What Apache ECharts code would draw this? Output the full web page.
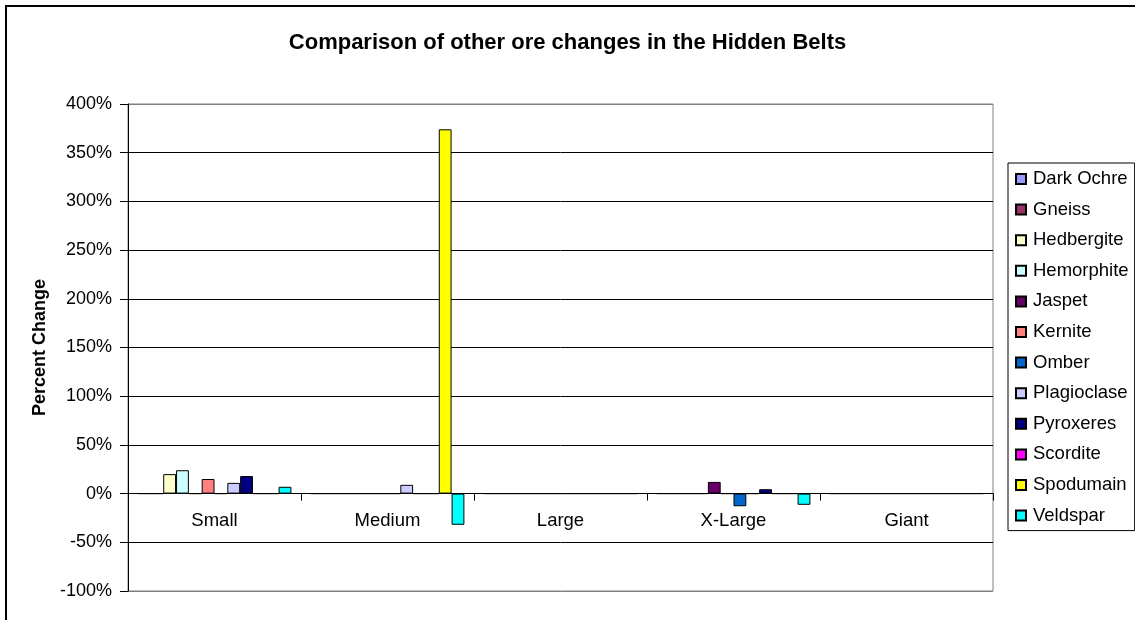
<!DOCTYPE html>
<html>
<head>
<meta charset="utf-8">
<script src="https://cdn.jsdelivr.net/npm/echarts@6/dist/echarts.min.js"></script>
<style>
  html, body { margin: 0; padding: 0; background: #fff; }
  #chart { width: 1135px; height: 620px; }
</style>
</head>
<body>
<div id="chart"></div>
<script>
// Belt sizes along the x axis
const belts = ['Small', 'Medium', 'Large', 'X-Large', 'Giant'];

// Percent change per ore, one value per belt size
const darkOchre   = [0, 0, 0, 0, 0];
const gneiss      = [0, 0, 0, 0, 0];
const hedbergite  = [20, 0, 0, 0, 0];
const hemorphite  = [24, 0, 0, 0, 0];
const jaspet      = [0, 0, 0, 12, 0];
const kernite     = [15, 0, 0, 0, 0];
const omber       = [0, 0, 0, -13, 0];
const plagioclase = [11, 9, 0, 0, 0];
const pyroxeres   = [18, 0, 0, 4.5, 0];
const scordite    = [0, 0, 0, 0, 0];
const spodumain   = [0, 374, 0, 0, 0];
const veldspar    = [7, -32, 0, -11.5, 0];

const ores = [
  ['Dark Ochre', darkOchre, '#9999FF'],
  ['Gneiss', gneiss, '#993366'],
  ['Hedbergite', hedbergite, '#FFFFCC'],
  ['Hemorphite', hemorphite, '#CCFFFF'],
  ['Jaspet', jaspet, '#660066'],
  ['Kernite', kernite, '#FF8080'],
  ['Omber', omber, '#0066CC'],
  ['Plagioclase', plagioclase, '#CCCCFF'],
  ['Pyroxeres', pyroxeres, '#000080'],
  ['Scordite', scordite, '#FF00FF'],
  ['Spodumain', spodumain, '#FFFF00'],
  ['Veldspar', veldspar, '#00FFFF']
];

// Value axis ticks
const yMin = -100, yMax = 400, yStep = 50;

const font = 'Liberation Sans, Arial, sans-serif';

// Plot box in pixels
const gridTop = 104, gridBottom = 29, chartH = 620;
const plotH = chartH - gridTop - gridBottom;
// Lift the category axis from the plot bottom up to the 0% line
const zeroLift = plotH * (0 - yMin) / (yMax - yMin);

const chart = echarts.init(document.getElementById('chart'), null, { renderer: 'canvas' });

chart.setOption({
  animation: false,
  backgroundColor: '#fff',
  title: {
    text: 'Comparison of other ore changes in the Hidden Belts',
    left: 'center',
    top: 27,
    textStyle: { fontFamily: font, fontSize: 22, fontWeight: 'bold', color: '#000' }
  },
  graphic: [{
    type: 'rect',
    shape: { x: 6, y: 6, width: 1140, height: 630 },
    style: { fill: 'none', stroke: '#000', lineWidth: 2 },
    silent: true
  }],
  legend: {
    orient: 'vertical',
    left: 1008,
    top: 163,
    padding: [6, 6, 5, 7],
    borderColor: '#000',
    borderWidth: 1,
    backgroundColor: '#fff',
    itemWidth: 10,
    itemHeight: 10,
    itemGap: 10.6,
    icon: 'rect',
    selectedMode: false,
    textStyle: { fontFamily: font, fontSize: 18.5, color: '#000', lineHeight: 20, padding: [0, 0, 0, 2] },
    data: ores.map(o => o[0])
  },
  grid: {
    left: 128, right: 142, top: gridTop, bottom: gridBottom,
    show: true,
    borderColor: '#808080',
    borderWidth: 1
  },
  xAxis: {
    type: 'category',
    data: belts,
    position: 'bottom',
    offset: -zeroLift,
    axisLine: { onZero: false, lineStyle: { color: '#000', width: 1 } },
    axisTick: { show: true, length: 7, lineStyle: { color: '#000' } },
    axisLabel: { margin: 18, fontFamily: font, fontSize: 18.5, color: '#000' },
    splitLine: { show: false }
  },
  yAxis: {
    type: 'value',
    min: yMin, max: yMax, interval: yStep,
    name: 'Percent Change',
    nameLocation: 'middle',
    nameGap: 60,
    nameRotate: 90,
    nameTextStyle: { fontFamily: font, fontSize: 18, fontWeight: 'bold', color: '#000' },
    axisLine: { show: true, lineStyle: { color: '#000', width: 1 } },
    axisTick: { show: true, length: 8, inside: false, lineStyle: { color: '#000' } },
    axisLabel: { margin: 16, fontFamily: font, fontSize: 18, color: '#000', formatter: '{value}%' },
    splitLine: {
      show: true,
      lineStyle: {
        color: ['#808080', '#000', '#000', '#000', '#000', '#000', '#000', '#000', '#000', '#000', '#808080'],
        width: 1
      }
    }
  },
  series: ores.map(([name, values, color]) => ({
    name,
    type: 'bar',
    data: values,
    barGap: '0%',
    barCategoryGap: '11.1%',
    itemStyle: { color, borderColor: '#000', borderWidth: 1 }
  }))
});
</script>
</body>
</html>
